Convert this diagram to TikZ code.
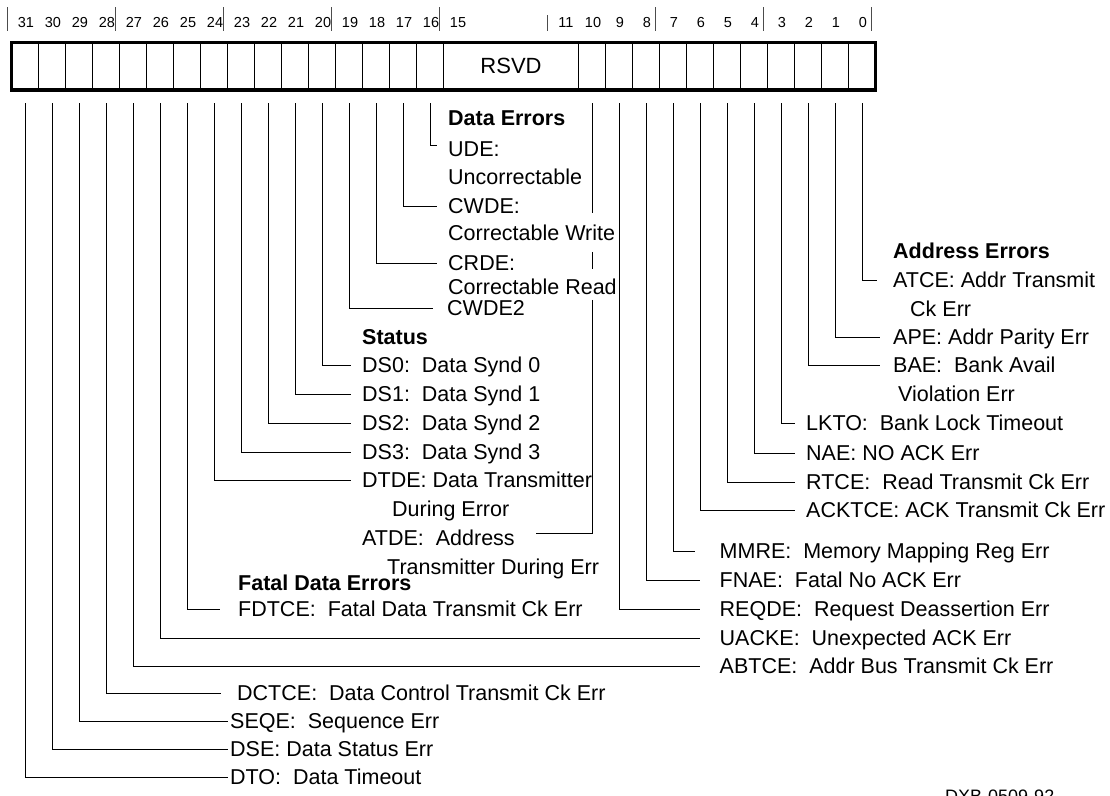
\documentclass[tikz,border=0pt]{standalone}
\usepackage{fontspec}
\setmainfont{Liberation Sans}
\usetikzlibrary{positioning}
\tikzset{
    cell/.style={draw, line width=1pt, minimum width=27pt, minimum height=47.7pt, inner sep=0pt, outer sep=0pt, anchor=north west},
    bitnum/.style={inner sep=0pt, font=\fontsize{14.5}{16}\selectfont, text height=10.4pt, text depth=0pt},
    lbl/.style={anchor=west, inner sep=0pt, font=\fontsize{21.5}{24}\selectfont, text height=15.4pt, text depth=0pt},
    hdr/.style={lbl, font=\fontsize{21.5}{24}\selectfont\bfseries},
    lead/.style={line width=1pt},
    tick/.style={line width=0.8pt, black!70}
}
\frenchspacing

\begin{document}
\begin{tikzpicture}[x=1pt, y=-1pt]
\useasboundingbox (0,0) rectangle (1110,795);
% register cells
\foreach \b in {31,30,...,16}
    \node[cell] (b\b) at ({11.5+(31-\b)*27}, 42.3) {};
\foreach \b in {10,9,...,0}
    \node[cell] (b\b) at ({11.5+(31-\b)*27}, 42.3) {};
\node[cell, minimum width=135pt, font=\fontsize{22}{24}\selectfont] (rsvd) at (443.5, 42.3) {RSVD};
\draw[line width=3.3pt] (b31.north west) rectangle (b0.south east);
% bit numbers
\foreach \b in {31,30,...,15}
    \node[bitnum] (n\b) at ({12.5+(31.5-\b)*27}, 22) {\b};
\foreach \b in {11,10,...,0}
    \node[bitnum] (n\b) at ({12.5+(31.5-\b)*27}, 22) {\b};
\foreach \k in {0,1,2,3,4,6,7,8}
    \draw[tick] ({7.5+108*\k}, 7) -- ++(0,24);
\draw[tick] (547.5, 15) -- ++(0,16);

% data errors
\node[hdr] (datahdr) at (448,118) {Data Errors};
\node[lbl] (ude) at (448,149) {UDE:};
\node[lbl] (udeb) at (448,177) {Uncorrectable};
\node[lbl] (cwde) at (448,206) {CWDE:};
\node[lbl] (cwdeb) at (448,233) {Correctable Write};
\node[lbl] (crde) at (448,263) {CRDE:};
\node[lbl] (crdeb) at (448,287) {Correctable Read};
\node[lbl] (cwdetwo) at (447,308) {CWDE2};
% status
\node[hdr] (statushdr) at (362,337) {Status};
\node[lbl] (ds0) at (362,365) {DS0:~~Data Synd 0};
\node[lbl] (ds1) at (362,394) {DS1:~~Data Synd 1};
\node[lbl] (ds2) at (362,423) {DS2:~~Data Synd 2};
\node[lbl] (ds3) at (362,452) {DS3:~~Data Synd 3};
\node[lbl] (dtde) at (362,480) {DTDE: Data Transmitter};
\node[lbl] (dtdeb) at (392,509) {During Error};
\node[lbl] (atde) at (362,538) {ATDE:~~Address};
\node[lbl] (atdeb) at (387,567) {Transmitter During Err};
% fatal data errors
\node[hdr] (fatalhdr) at (238,583) {Fatal Data Errors};
\node[lbl] (fdtce) at (238,609) {FDTCE:~~Fatal Data Transmit Ck Err};
\node[lbl] (dctce) at (237,693) {DCTCE:~~Data Control Transmit Ck Err};
\node[lbl] (seqe) at (230,721) {SEQE:~~Sequence Err};
\node[lbl] (dse) at (230,749) {DSE: Data Status Err};
\node[lbl] (dto) at (230,777) {DTO:~~Data Timeout};
% address errors
\node[hdr] (addrhdr) at (893,251) {Address Errors};
\node[lbl] (atce) at (893,280) {ATCE: Addr Transmit};
\node[lbl] (atceb) at (910,309) {Ck Err};
\node[lbl] (ape) at (893,337) {APE: Addr Parity Err};
\node[lbl] (bae) at (893,365) {BAE:~~Bank Avail};
\node[lbl] (baeb) at (898,394) {Violation Err};
\node[lbl] (lkto) at (806,423) {LKTO:~~Bank Lock Timeout};
\node[lbl] (nae) at (806,453) {NAE: NO ACK Err};
\node[lbl] (rtce) at (806,482) {RTCE:~~Read Transmit Ck Err};
\node[lbl] (acktce) at (806,510) {ACKTCE: ACK Transmit Ck Err};
\node[lbl] (mmre) at (719.5,551) {MMRE:~~Memory Mapping Reg Err};
\node[lbl] (fnae) at (719.5,580) {FNAE:~~Fatal No ACK Err};
\node[lbl] (reqde) at (719.5,609) {REQDE:~~Request Deassertion Err};
\node[lbl] (uacke) at (719.5,638) {UACKE:~~Unexpected ACK Err};
\node[lbl] (abtce) at (719.5,666) {ABTCE:~~Addr Bus Transmit Ck Err};
\node[lbl, font=\fontsize{18}{20}\selectfont, text height=12.9pt] (code) at (945,796.4) {DXB-0509-92};

% leads from the bits
\draw[lead] ([yshift=-13pt]b31.south) |- ([xshift=-2pt]dto.west);
\draw[lead] ([yshift=-13pt]b30.south) |- ([xshift=-2pt]dse.west);
\draw[lead] ([yshift=-13pt]b29.south) |- ([xshift=-2pt]seqe.west);
\draw[lead] ([yshift=-13pt]b28.south) |- ([xshift=-16pt]dctce.west);
\draw[lead] ([yshift=-13pt]b27.south) |- ([xshift=-19.5pt]abtce.west);
\draw[lead] ([yshift=-13pt]b26.south) |- ([xshift=-19.5pt]uacke.west);
\draw[lead] ([yshift=-13pt]b25.south) |- ([xshift=-18pt]fdtce.west);
\draw[lead] ([yshift=-13pt]b24.south) |- ([xshift=-11pt]dtde.west);
\draw[lead] ([yshift=-13pt]b23.south) |- ([xshift=-11pt]ds3.west);
\draw[lead] ([yshift=-13pt]b22.south) |- ([xshift=-11pt]ds2.west);
\draw[lead] ([yshift=-13pt]b21.south) |- ([xshift=-11pt]ds1.west);
\draw[lead] ([yshift=-13pt]b20.south) |- ([xshift=-11pt]ds0.west);
\draw[lead] ([yshift=-13pt]b19.south) |- ([xshift=-14pt]cwdetwo.west);
\draw[lead] ([yshift=-13pt]b18.south) |- ([xshift=-11pt]crde.west);
\draw[lead] ([yshift=-13pt]b17.south) |- ([xshift=-11pt]cwde.west);
\draw[lead] ([yshift=-13pt]b16.south) |- ([xshift=-11pt,yshift=4pt]ude.west);
\coordinate (atdeend) at ([xshift=21pt,yshift=5pt]atde.east);
\draw[lead] ([yshift=-13pt]b10.south) -- ([yshift=12pt]b10.south |- cwdeb.north);
\draw[lead] ([yshift=-11pt]b10.south |- cwdeb.south) -- ([yshift=10pt]b10.south |- crdeb.north);
\draw[lead] ([yshift=-5pt]b10.south |- crdeb.south) -- (b10.south |- atdeend) -- (atdeend);
\draw[lead] ([yshift=-13pt]b9.south) |- ([xshift=-19.5pt]reqde.west);
\draw[lead] ([yshift=-13pt]b8.south) |- ([xshift=-19.5pt]fnae.west);
\draw[lead] ([yshift=-13pt]b7.south) |- ([xshift=-24.5pt]mmre.west);
\draw[lead] ([yshift=-13pt]b6.south) |- ([xshift=-11pt]acktce.west);
\draw[lead] ([yshift=-13pt]b5.south) |- ([xshift=-11pt]rtce.west);
\draw[lead] ([yshift=-13pt]b4.south) |- ([xshift=-11pt]nae.west);
\draw[lead] ([yshift=-13pt]b3.south) |- ([xshift=-11pt]lkto.west);
\draw[lead] ([yshift=-13pt]b2.south) |- ([xshift=-13pt]bae.west);
\draw[lead] ([yshift=-13pt]b1.south) |- ([xshift=-13pt]ape.west);
\draw[lead] ([yshift=-13pt]b0.south) |- ([xshift=-16pt]atce.west);
\end{tikzpicture}
\end{document}
